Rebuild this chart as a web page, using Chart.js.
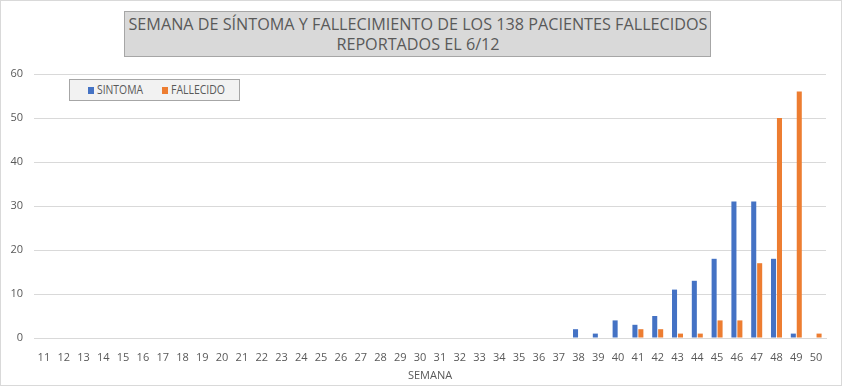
<!DOCTYPE html>
<html lang='es'>
<head>
  <meta charset='UTF-8'>
  <title>Semana de síntoma y fallecimiento</title>
  <style>
    * { box-sizing: border-box; }
    body { margin: 0; background: #fff; }
    .wrap { position: relative; width: 842px; height: 386px; }
    .frame { position: absolute; left: 0; top: 0; width: 842px; height: 386px; border: 1px solid #d9d9d9; pointer-events: none; }
    canvas { position: absolute; left: 0; top: 0; }
    .title { position: absolute; left: 124px; top: 11px; width: 587px; height: 46px; background: #d9d9d9; border: 1px solid #a6a6a6;
      font-family: 'Open Sans', sans-serif; font-size: 17px; line-height: 20px; color: #595959; }
    .title span { position: absolute; left: 50%; white-space: nowrap; }
    .legend { position: absolute; left: 69px; top: 79px; width: 171px; height: 22px; background: #f2f2f2; border: 1px solid #a6a6a6;
      font-family: 'Open Sans', sans-serif; font-size: 12px; color: #595959; line-height: 20px; }
    .legend .item { position: absolute; top: 0; white-space: nowrap; }
    .legend i { position: absolute; top: 7px; left: 0; width: 6px; height: 7px; }
    .legend b { position: absolute; top: 0; left: 9px; font-weight: normal; transform-origin: left center; }
  </style>
  <script src="https://cdn.jsdelivr.net/npm/chart.js"></script>
</head>
<body>
  <div class='wrap'>
    <canvas id='chart' width='842' height='386'></canvas>
    <div class='title'><span id='t1' style='top:2px'>SEMANA DE SÍNTOMA Y FALLECIMIENTO DE LOS 138 PACIENTES FALLECIDOS</span><span id='t2' style='top:22px'>REPORTADOS EL 6/12</span></div>
    <div class='legend'>
      <div class='item' style='left:18px'><i style='background:#4472c4'></i><b data-w='46'>SINTOMA</b></div>
      <div class='item' style='left:92px'><i style='background:#ed7d31'></i><b data-w='54'>FALLECIDO</b></div>
    </div>
    <div class='frame'></div>
  </div>
  <script>
    const weeks = [];
    for (let w = 11; w <= 50; w++) weeks.push(String(w));

    // values by week, weeks 11..50
    const sintoma = [0,0,0,0,0,0,0,0,0,0, 0,0,0,0,0,0,0,0,0,0, 0,0,0,0,0,0,0,2,1,4, 3,5,11,13,18,31,31,18,1,0];
    const fallecido = [0,0,0,0,0,0,0,0,0,0, 0,0,0,0,0,0,0,0,0,0, 0,0,0,0,0,0,0,0,0,0, 2,2,1,1,4,4,17,50,56,1];
    const yTicks = [0, 10, 20, 30, 40, 50, 60];

    // squeeze text to the narrow look of the original
    const t1 = document.getElementById('t1'), t2 = document.getElementById('t2');
    const k = 579 / t1.getBoundingClientRect().width;
    t1.style.transform = t2.style.transform = 'translateX(-50%) scaleX(' + k + ')';
    document.querySelectorAll('.legend b').forEach(b => {
      b.style.transform = 'scaleX(' + (+b.dataset.w / b.getBoundingClientRect().width) + ')';
    });

    const tickFont = { family: "'Open Sans', sans-serif", size: 11 };

    new Chart(document.getElementById('chart'), {
      type: 'bar',
      data: {
        labels: weeks,
        datasets: [
          { label: 'SINTOMA', data: sintoma, backgroundColor: '#4472c4' },
          { label: 'FALLECIDO', data: fallecido, backgroundColor: '#ed7d31' }
        ]
      },
      options: {
        responsive: false,
        animation: false,
        layout: { padding: { left: 0, top: 74, right: 16, bottom: 0 } },
        datasets: { bar: { categoryPercentage: 0.6, barPercentage: 0.85 } },
        plugins: { legend: { display: false }, title: { display: false }, tooltip: { enabled: false } },
        scales: {
          x: {
            grid: { display: false },
            border: { color: '#d9d9d9' },
            ticks: { color: '#595959', font: tickFont, padding: 5, maxRotation: 0, autoSkip: false },
            title: { display: true, text: 'SEMANA', color: '#595959', font: tickFont, padding: { top: 0, bottom: 4 } },
            afterFit: s => { s.height = 48; }
          },
          y: {
            min: 0, max: 60,
            afterBuildTicks: s => { s.ticks = yTicks.map(v => ({ value: v })); },
            grid: { color: '#d9d9d9', drawTicks: false },
            border: { display: false },
            ticks: { color: '#595959', font: tickFont, padding: 11 },
            afterFit: s => { s.width = 34; }
          }
        }
      }
    });
  </script>
</body>
</html>
